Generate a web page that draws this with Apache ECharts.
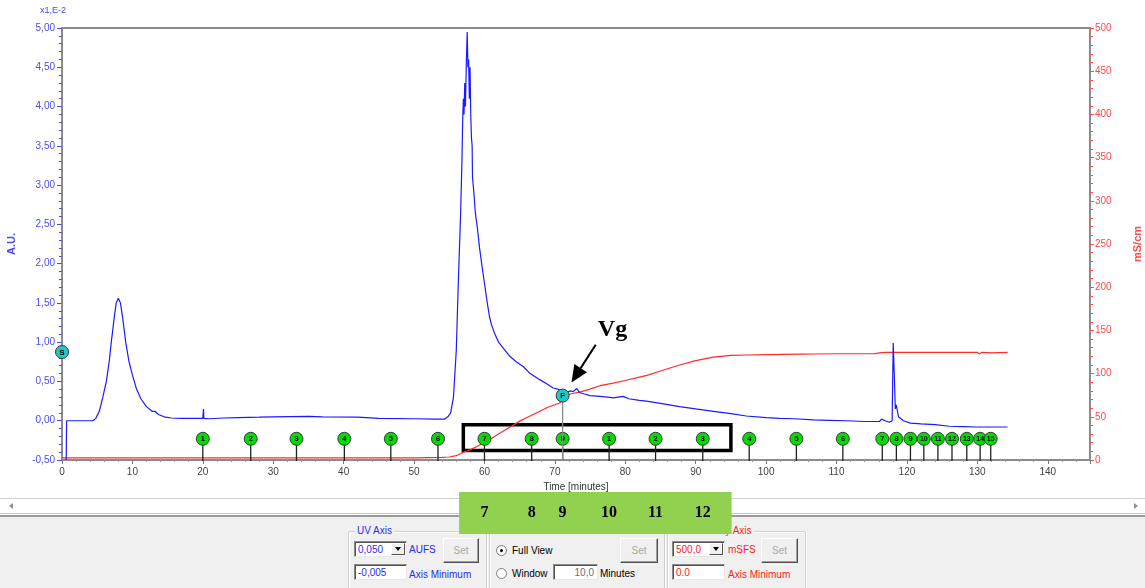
<!DOCTYPE html>
<html><head><meta charset="utf-8">
<script src="https://cdn.jsdelivr.net/npm/echarts@6/dist/echarts.min.js"></script>
<style>
html,body{margin:0;padding:0;background:#fff;width:1145px;height:588px;overflow:hidden;font-family:"Liberation Sans",Arial,sans-serif;font-size:10px;}
#chart{position:absolute;left:0;top:0;width:1145px;height:588px;z-index:2;}
#scroll{position:absolute;left:0;top:498px;width:1145px;height:14px;background:#fff;border-top:1px solid #d2d2d2;border-bottom:1px solid #c8c8c8;}
.arrL{position:absolute;left:9px;top:4px;width:0;height:0;border-top:3px solid transparent;border-bottom:3px solid transparent;border-right:4px solid #909090;}
.arrR{position:absolute;left:1134px;top:4px;width:0;height:0;border-top:3px solid transparent;border-bottom:3px solid transparent;border-left:4px solid #909090;}
#panel{position:absolute;left:0;top:515px;width:1145px;height:73px;background:#f0f0f0;border-top:2px solid #9a9a9a;}
.box{position:absolute;border:1px solid #d0d0d0;box-shadow:inset 1px 1px #fff,1px 1px #fff;border-radius:2px;}
.leg{position:absolute;top:-7px;background:#f0f0f0;padding:0 2px;font-size:10px;white-space:nowrap;}
.field{position:absolute;background:#fff;border:1px solid;border-color:#8a8a8a #e8e8e8 #e8e8e8 #8a8a8a;box-shadow:inset 1px 1px #505050;font-size:10px;line-height:15px;padding-left:3px;box-sizing:border-box;white-space:nowrap;}
.dd{position:absolute;right:1px;top:1px;width:14px;height:12px;background:#f0f0f0;border:1px solid;border-color:#fff #505050 #505050 #fff;box-sizing:border-box;}
.dd:after{content:"";position:absolute;left:3px;top:3px;border-left:3px solid transparent;border-right:3px solid transparent;border-top:4px solid #000;}
.btn{position:absolute;background:#f0f0f0;border:1px solid;border-color:#fff #505050 #505050 #fff;box-shadow:inset -1px -1px #a0a0a0;color:#a8a8a8;text-align:center;font-size:10px;box-sizing:border-box;}
.txt{position:absolute;white-space:nowrap;font-size:10px;}
.radio{position:absolute;width:9px;height:9px;border-radius:50%;background:#fff;border:1px solid #808080;}
.radio.on:after{content:"";position:absolute;left:3px;top:3px;width:3px;height:3px;border-radius:50%;background:#000;}
.blue{color:#2b2bf5;}
.red{color:#ff2020;}
</style></head><body>
<div id="scroll"><div class="arrL"></div><div class="arrR"></div></div>
<div id="panel">
  <div class="box" style="left:348px;top:14px;width:137px;height:70px;">
    <span class="leg blue" style="left:6px;">UV Axis</span>
  </div>
  <div class="field blue" style="left:354px;top:24px;width:53px;height:16px;">0,050<div class="dd"></div></div>
  <div class="txt blue" style="left:409px;top:27px;">AUFS</div>
  <div class="btn" style="left:443px;top:21px;width:36px;height:25px;line-height:23px;">Set</div>
  <div class="field blue" style="left:354px;top:47px;width:53px;height:16px;">-0,005</div>
  <div class="txt blue" style="left:409px;top:52px;">Axis Minimum</div>

  <div class="box" style="left:489px;top:14px;width:174px;height:70px;">
    <span class="leg" style="left:6px;color:#000;">Time Axis</span>
  </div>
  <div class="radio on" style="left:496px;top:28px;"></div>
  <div class="txt" style="left:512px;top:28px;color:#000;">Full View</div>
  <div class="btn" style="left:620px;top:21px;width:38px;height:25px;line-height:23px;">Set</div>
  <div class="radio" style="left:496px;top:51px;"></div>
  <div class="txt" style="left:512px;top:51px;color:#000;">Window</div>
  <div class="field" style="left:553px;top:47px;width:45px;height:16px;text-align:right;padding-right:3px;color:#707070;">10,0</div>
  <div class="txt" style="left:600px;top:51px;color:#000;">Minutes</div>

  <div class="box" style="left:667px;top:14px;width:137px;height:70px;">
    <span class="leg red" style="left:6px;">Conductivity Axis</span>
  </div>
  <div class="field red" style="left:672px;top:24px;width:53px;height:16px;">500,0<div class="dd"></div></div>
  <div class="txt red" style="left:728px;top:27px;">mSFS</div>
  <div class="btn" style="left:761px;top:21px;width:37px;height:25px;line-height:23px;">Set</div>
  <div class="field red" style="left:672px;top:47px;width:53px;height:16px;">0.0</div>
  <div class="txt red" style="left:728px;top:52px;">Axis Minimum</div>
</div>
<div id="chart"></div>
<script>
// ---------------- DATA ----------------
// UV trace: [time (min), absorbance (x1E-2 A.U.)]
const uvTrace = [
  [0.6,-0.5],[0.65,0.0],[4.4,0.0],[4.8,0.03],[5.3,0.12],[5.8,0.3],[6.3,0.5],[6.7,0.75],[7.0,1.0],[7.4,1.3],[7.7,1.5],[8.0,1.56],
  [8.3,1.5],[8.6,1.32],[9.05,1.0],[9.5,0.76],[10.0,0.58],[10.6,0.4],[11.2,0.28],[12.0,0.18],[12.8,0.12],[13.2,0.12],[13.4,0.13],
  [13.7,0.08],[14.5,0.05],[15.5,0.035],[17,0.03],[20.0,0.03],[20.1,0.15],[20.15,0.03],[21,0.025],[23,0.035],[25,0.04],[28,0.045],
  [30,0.05],[35,0.055],[37,0.05],[42,0.045],[45,0.03],[50,0.025],[53,0.02],[54.3,0.02],[54.8,0.05],[55.2,0.1],[55.6,0.3],[56.0,0.9],
  [56.3,1.8],[56.6,2.6],[56.8,3.3],[56.9,3.8],[57.0,4.1],[57.1,3.9],[57.2,4.3],[57.3,4.0],[57.45,4.65],[57.55,4.95],[57.65,4.5],
  [57.75,4.6],[57.85,4.1],[57.95,4.5],[58.05,3.9],[58.15,3.6],[58.25,3.5],[58.3,3.1],[58.5,2.9],[58.7,2.65],[59.0,2.45],[59.3,2.2],
  [59.6,2.0],[60.0,1.75],[60.4,1.5],[60.7,1.33],[61.0,1.22],[61.4,1.12],[62.0,1.0],[62.9,0.9],[63.6,0.82],[64.5,0.75],[65.5,0.69],
  [66.5,0.6],[67.9,0.52],[69.0,0.46],[69.7,0.42],[70.5,0.40],[71.1,0.37],[71.6,0.36],[72.2,0.38],[72.6,0.37],[73.1,0.41],[73.5,0.36],
  [74.2,0.34],[75.0,0.32],[76.4,0.31],[77.5,0.30],[78.3,0.29],[79.0,0.30],[79.7,0.31],[80.5,0.28],[82.0,0.26],[83.0,0.25],[85,0.22],
  [87.7,0.18],[90,0.15],[92.5,0.12],[95,0.09],[97.2,0.06],[100,0.04],[101.9,0.03],[104,0.025],[106.7,0.01],[109,0.005],[111.4,0.0],
  [114,-0.01],[116.1,-0.01],[116.4,0.02],[116.6,0.045],[116.9,0.0],[117.5,-0.02],[117.9,0.0],[118.05,0.99],[118.2,0.6],[118.35,0.15],
  [118.5,0.2],[118.8,0.05],[119.5,0.0],[120.5,-0.03],[122,-0.04],[124,-0.05],[126,-0.07],[128,-0.075],[130,-0.08],[132,-0.08],[134.3,-0.08]
];
// Conductivity trace: [time (min), mS/cm]
const condTrace = [
  [0,2.5],[13.7,2.5],[13.8,0.5],[13.9,2.5],[50,2.5],[54,3],[55,3.5],[56,5],[57,9],[58,12],[59,16],[60,20.5],[61,25],[62,30],[63,35],
  [64,40],[65,45],[66,49],[67,53],[68,57],[69,61],[70,64],[70.7,66],[71.1,70],[71.7,75],[72.5,77],[73.5,78.5],[75,82],[76.4,86],
  [78.3,89],[80,92],[82,96],[83.1,98],[85,103],[87.7,110],[90,115],[92.5,119],[95,121],[97.2,121.5],[100,122],[105,122.5],
  [106.7,122.7],[110,123],[115.5,123.2],[116.1,124],[117,124.5],[120,124.5],[125,124.5],[130,124.5],[130.3,122.5],[130.6,124.5],
  [132,124],[134.3,124.5]
];
// Fraction marks
const fractionTimes = [20.0,26.8,33.3,40.1,46.7,53.4,60.0,66.7,71.1,77.7,84.3,91.0,97.6,104.3,110.9,116.5,118.5,120.5,122.4,124.4,126.4,128.5,130.4,131.9];
const fractionLabels = ['1','2','3','4','5','6','7','8','9','1','2','3','4','5','6','7','8','9','10','11','12','13','14','15'];
// Event marks: [time, UV level]
const eventMarks = [[0.0,0.875],[71.1,0.32]];
const eventLabels = ['S','F'];
// Highlighted fractions (overlay numbering)
const highlightTimes = [60.0,66.7,71.1,77.7,84.3,91.0];
const highlightLabels = ['7','8','9','10','11','12'];
// Axis ticks
const uvTicks = {min:-0.5, max:5.0, interval:0.5};
const condTicks = {min:0, max:500, interval:50};
const timeTicks = {min:0, max:146, interval:10};
// Annotation (box around the fractions of interest, Vg arrow)
const boxRange = {x0:57.0, x1:95.0, y0:-0.05, y1:-0.38};
const vgArrow = {tip:[72.36,0.488], tail:[75.8,0.968], text:[76.1,1.0]};
const overlayRange = [56.4, 95.1];

// ---------------- STYLE ----------------
const MARKER_LEVEL = -0.23;
const BLUE = '#1a1aff', RED = '#ff2a2a', UVLBL = '#4b4bf2', CONDLBL = '#ff4a4a', FRAME = '#8c8c8c';

const chart = echarts.init(document.getElementById('chart'), null, {renderer:'canvas'});

function markerItem(params, api, label, fill, stemColor, withStem) {
  const x = api.value(0);
  const lvl = api.value(1);
  const top = api.coord([x, lvl]);
  const base = api.coord([x, uvTicks.min]);
  const children = [];
  if (withStem) children.push({type:'line', shape:{x1:top[0],y1:top[1],x2:base[0],y2:base[1]+1}, style:{stroke:stemColor, lineWidth:1.3}});
  children.push({type:'circle', shape:{cx:top[0],cy:top[1],r:6.5}, style:{fill:fill, stroke:'#3a3a3a', lineWidth:1}});
  children.push({type:'text', style:{text:label, x:top[0], y:top[1]+0.5, align:'center', verticalAlign:'middle',
     font:(label.length>1?'bold 7px':'bold 8px')+' "Liberation Sans", Arial', fill:'#000'}});
  return {type:'group', children};
}

const option = {
  animation:false,
  backgroundColor:'transparent',
  grid:{left:62, right:55, top:28, bottom:128, show:true, borderColor:FRAME, borderWidth:2, backgroundColor:'#fff',
        containLabel:false, outerBoundsMode:'none'},
  xAxis:{
    type:'value', min:timeTicks.min, max:timeTicks.max, interval:timeTicks.interval,
    name:'Time [minutes]', nameLocation:'middle', nameGap:21,
    nameTextStyle:{color:'#333', fontSize:10, fontFamily:'Liberation Sans'},
    axisLine:{show:true, onZero:false, lineStyle:{color:FRAME, width:2}},
    axisTick:{show:true, length:4, lineStyle:{color:'#777'}},
    minorTick:{show:true, splitNumber:5, length:2, lineStyle:{color:'#999'}},
    axisLabel:{color:'#444', fontSize:10, margin:7, fontFamily:'Liberation Sans', formatter:v => (v % 10 === 0 ? String(v) : '')},
    splitLine:{show:false}
  },
  yAxis:[
    {
      type:'value', position:'left', min:uvTicks.min, max:uvTicks.max, interval:uvTicks.interval,
      name:'A.U.', nameLocation:'middle', nameGap:45, nameRotate:90,
      nameTextStyle:{color:UVLBL, fontSize:11, fontWeight:'bold', fontFamily:'Liberation Sans'},
      axisLine:{show:true, onZero:false, lineStyle:{color:FRAME, width:2}},
      axisTick:{show:true, length:5, lineStyle:{color:UVLBL}},
      minorTick:{show:true, splitNumber:5, length:3, lineStyle:{color:UVLBL}},
      axisLabel:{color:UVLBL, fontSize:10, margin:7, fontFamily:'Liberation Sans', formatter:v => v.toFixed(2).replace('.', ',')},
      splitLine:{show:false}
    },
    {
      type:'value', position:'right', min:condTicks.min, max:condTicks.max, interval:condTicks.interval,
      name:'mS/cm', nameLocation:'middle', nameGap:42, nameRotate:90,
      nameTextStyle:{color:CONDLBL, fontSize:11, fontWeight:'bold', fontFamily:'Liberation Sans'},
      axisLine:{show:true, onZero:false, lineStyle:{color:FRAME, width:2}},
      axisTick:{show:true, length:4, lineStyle:{color:CONDLBL}},
      minorTick:{show:true, splitNumber:5, length:3, lineStyle:{color:CONDLBL}},
      axisLabel:{color:CONDLBL, fontSize:10, margin:5, fontFamily:'Liberation Sans'},
      splitLine:{show:false}
    }
  ],
  series:[
    {
      type:'line', name:'Conductivity', yAxisIndex:1, data:condTrace, showSymbol:false, symbol:'none',
      lineStyle:{color:RED, width:1.2}, z:3
    },
    {
      type:'line', name:'UV', yAxisIndex:0, data:uvTrace, showSymbol:false, symbol:'none',
      lineStyle:{color:BLUE, width:1.2}, z:4,
      markArea:{silent:true, itemStyle:{color:'rgba(0,0,0,0)', borderColor:'#000', borderWidth:3.5},
        data:[[{xAxis:boxRange.x0, yAxis:boxRange.y0},{xAxis:boxRange.x1, yAxis:boxRange.y1}]]}
    },
    {
      type:'custom', name:'Fractions', yAxisIndex:0, z:6, clip:false,
      data:fractionTimes.map(t => [t, MARKER_LEVEL]),
      renderItem:(params, api) => markerItem(params, api, fractionLabels[params.dataIndex], '#00dd00', '#222', true)
    },
    {
      type:'custom', name:'Events', yAxisIndex:0, z:7, clip:false,
      data:eventMarks,
      renderItem:(params, api) => markerItem(params, api, eventLabels[params.dataIndex], '#22c8c8', '#8a8a8a', params.dataIndex > 0)
    }
  ]
};
chart.setOption(option);

function px(p){ return chart.convertToPixel({xAxisIndex:0, yAxisIndex:0}, p); }
const tip = px(vgArrow.tip), tail = px(vgArrow.tail), txt = px(vgArrow.text);
const dx = tip[0]-tail[0], dy = tip[1]-tail[1], len = Math.hypot(dx,dy), ux = dx/len, uy = dy/len;
const hl = 17, hw = 7.5;
const hb = [tip[0]-ux*hl, tip[1]-uy*hl];
const ovL = px([overlayRange[0], 0])[0], ovR = px([overlayRange[1], 0])[0];
const graphics = [
  {type:'text', left:40, top:6, style:{text:'x1,E-2', fill:UVLBL, font:'9px "Liberation Sans", Arial'}},
  {type:'line', shape:{x1:tail[0], y1:tail[1], x2:hb[0], y2:hb[1]}, style:{stroke:'#000', lineWidth:2}, z:20},
  {type:'polygon', shape:{points:[tip, [hb[0]-uy*hw, hb[1]+ux*hw], [hb[0]+uy*hw, hb[1]-ux*hw]]}, style:{fill:'#000'}, z:20},
  {type:'text', x:txt[0], y:txt[1], style:{text:'Vg', fill:'#000', font:'bold 24px "Liberation Serif", "Times New Roman", serif', textBaseline:'alphabetic', verticalAlign:'bottom'}, z:20},
  {type:'rect', shape:{x:ovL, y:492, width:ovR-ovL, height:42}, style:{fill:'#92d050'}, z:30}
];
highlightTimes.forEach((t,i) => {
  graphics.push({type:'text', x:px([t,0])[0], y:513, z:31,
    style:{text:highlightLabels[i], fill:'#000', align:'center', verticalAlign:'middle', font:'bold 16px "Liberation Serif", "Times New Roman", serif'}});
});
chart.setOption({graphic:graphics});
</script>
</body></html>
